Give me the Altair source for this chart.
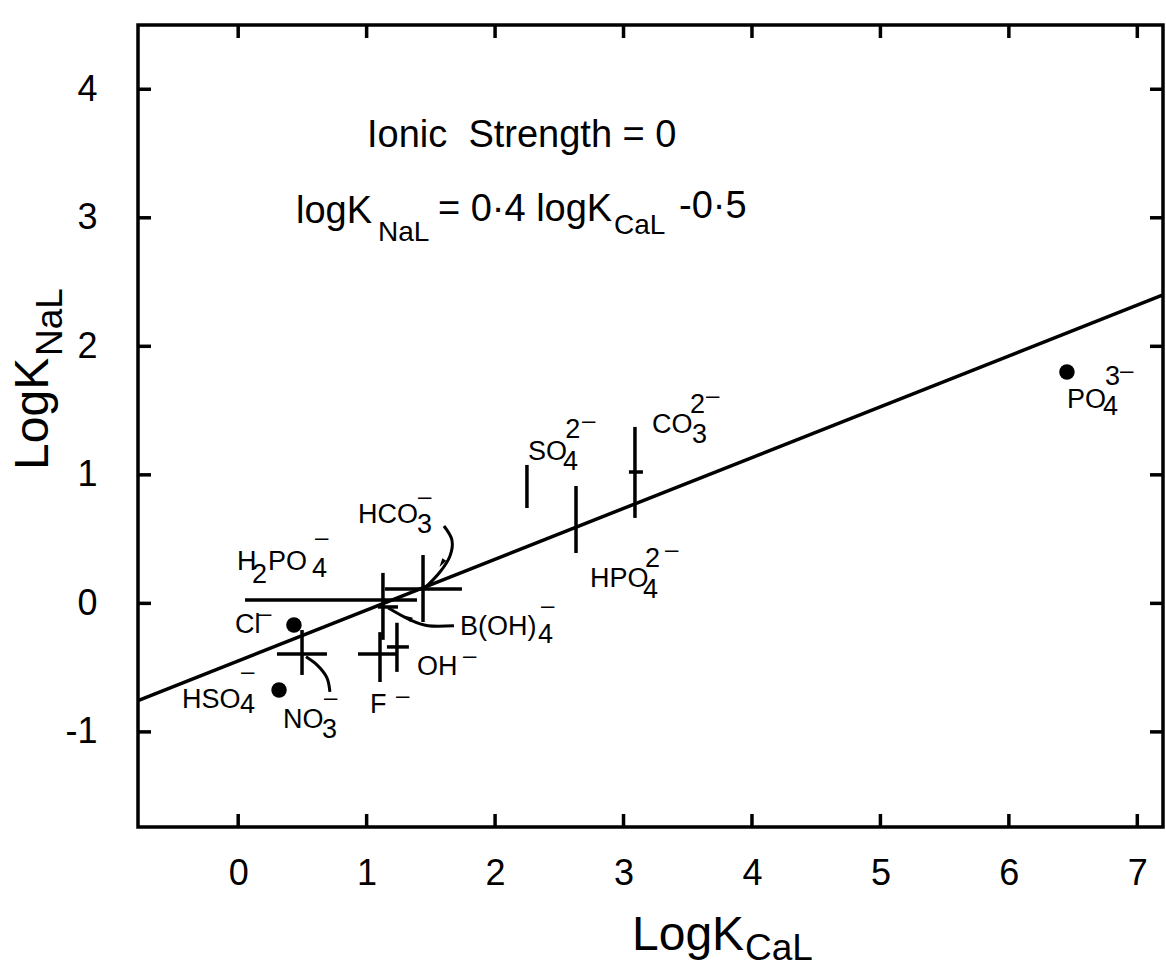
import altair as alt
import pandas as pd

FONT = "Liberation Sans"
W, H = 1025, 802

# ---------------- axes ----------------
x_ticks = [0, 1, 2, 3, 4, 5, 6, 7]
y_ticks = [-1, 0, 1, 2, 3, 4]
x_domain = [-0.78, 7.2]
y_domain = [-1.74, 4.5]

# ---------------- fitted line (as drawn) ----------------
fit_x = [-0.78, 7.2]
fit_y = [-0.756, 2.40]

# ---------------- single points ----------------
dot_names = ["Cl-", "HSO4-", "PO4 3-"]
dot_x = [0.434, 0.318, 6.452]
dot_y = [-0.168, -0.674, 1.800]

# ---------------- crosses / bars ----------------
cross_names = ["NO3-", "F-", "OH-", "H2PO4-", "B(OH)4-", "HCO3-", "SO4 2-", "HPO4 2-", "CO3 2-"]
cross_x   = [0.497, 1.104, 1.236, 1.127, 1.127, 1.439, 2.248, 2.630, 3.089]
cross_y   = [-0.394, -0.394, -0.339, 0.026, -0.028, 0.112, 0.909, 0.650, 1.022]
cross_xlo = [0.302, 0.933, 1.158, 0.053, 1.088, 1.142, 2.248, 2.630, 3.042]
cross_xhi = [0.691, 1.236, 1.329, 1.392, 1.244, 1.742, 2.248, 2.630, 3.151]
cross_ylo = [-0.557, -0.612, -0.533, 0.026, -0.284, -0.145, 0.742, 0.392, 0.665]
cross_yhi = [-0.207, -0.224, -0.151, 0.026, 0.237, 0.376, 1.077, 0.913, 1.373]

# ---------------- leader lines ----------------
lead_name = ["HCO3"] * 5 + ["BOH4"] * 4 + ["NO3"] * 4
lead_x = [1.602, 1.664, 1.649, 1.571, 1.454, 1.680, 1.478, 1.337, 1.166, 0.714, 0.691, 0.621, 0.528]
lead_y = [0.602, 0.493, 0.369, 0.244, 0.120, -0.174, -0.174, -0.128, -0.034, -0.688, -0.579, -0.486, -0.416]
arrow_x = [1.587, 1.322]
arrow_y = [0.314, -0.112]
arrow_dir = [212, 299]

# ---------------- ion labels (base text, subscripts, superscripts) ----------------
ion_text = ["H", "2", "PO", "4", "Cl", "HSO", "4", "NO", "3", "F", "OH", "B(OH)", "4",
            "HCO", "3", "SO", "4", "2", "CO", "3", "2", "HPO", "4", "2", "PO", "4", "3"]
ion_x = [-0.009, 0.107, 0.232, 0.575, -0.025, -0.438, 0.014, 0.349, 0.652, 1.026, 1.392, 1.727, 2.334,
         0.933, 1.392, 2.256, 2.529, 2.546, 3.222, 3.533, 3.517, 2.739, 3.151, 3.167, 6.452, 6.733, 6.748]
ion_y = [0.260, 0.159, 0.260, 0.205, -0.230, -0.814, -0.853, -0.969, -1.047, -0.853, -0.557, -0.246, -0.308,
         0.626, 0.548, 1.116, 1.038, 1.287, 1.326, 1.248, 1.481, 0.128, 0.042, 0.283, 1.520, 1.466, 1.699]
dash_x = [0.598, 0.154, 0.022, 0.668, 1.229, 1.750, 2.357, 1.400, 2.677, 3.642, 3.323, 6.865]
dash_y = [0.454, -0.137, -0.588, -0.790, -0.775, -0.464, -0.075, 0.773, 1.365, 1.559, 0.361, 1.752]

# ---------------- equation and notes ----------------
eq_text = ["Ionic\u00a0 Strength = 0", "logK", "= 0·4 logK", "-0·5"]
eq_x = [1.003, 0.450, 1.555, 3.432]
eq_y = [3.551, 2.960, 2.975, 2.999]
eq_sub_text = ["NaL", "CaL"]
eq_sub_x = [1.088, 2.926]
eq_sub_y = [2.820, 2.874]

# ---------------- axis titles ----------------
xt_text, xt_x, xt_y = ["LogK"], [3.066], [-2.697]
xts_text, xts_x, xts_y = ["CaL"], [3.945], [-2.774]
yt_text, yt_x, yt_y = ["LogK"], [-1.481], [1.038]
yts_text, yts_x, yts_y = ["NaL"], [-1.372], [1.925]

# =====================================================================
xs = alt.Scale(domain=x_domain, nice=False, zero=False)
ys = alt.Scale(domain=y_domain, nice=False, zero=False)
xaxis = alt.Axis(values=x_ticks, title=None, grid=False, domain=False, ticks=False, tickSize=0,
                 labelFont=FONT, labelFontSize=36, labelColor="black", labelPadding=29,
                 labelOverlap=False, labelFlush=False)
yaxis = alt.Axis(values=y_ticks, title=None, grid=False, domain=False, ticks=False, tickSize=0,
                 labelFont=FONT, labelFontSize=36, labelColor="black", labelPadding=41,
                 labelOverlap=False, labelFlush=False,
                 labelExpr="datum.value < 0 ? '-' + (-datum.value) : '' + datum.value")


def X(f):
    return alt.X(f + ":Q", scale=xs, axis=xaxis)


def Y(f):
    return alt.Y(f + ":Q", scale=ys, axis=yaxis)


fit_df = pd.DataFrame({"x": fit_x, "y": fit_y})
dots_df = pd.DataFrame({"name": dot_names, "x": dot_x, "y": dot_y})
cross_df = pd.DataFrame({"name": cross_names, "xc": cross_x, "yc": cross_y,
                         "xlo": cross_xlo, "xhi": cross_xhi, "ylo": cross_ylo, "yhi": cross_yhi})
lead_df = pd.DataFrame({"name": lead_name, "x": lead_x, "y": lead_y, "i": list(range(len(lead_x)))})
arrow_df = pd.DataFrame({"x": arrow_x, "y": arrow_y, "a": arrow_dir})
xt_df = pd.DataFrame({"v": x_ticks})
yt_df = pd.DataFrame({"v": y_ticks})

BLACK = "black"
LW = 3.5

line = alt.Chart(fit_df).mark_line(color=BLACK, strokeWidth=LW).encode(x=X("x"), y=Y("y"))

hbars = alt.Chart(cross_df).transform_filter("datum.xlo < datum.xhi").mark_rule(
    color=BLACK, strokeWidth=LW).encode(x=X("xlo"), x2="xhi", y=Y("yc"))
vbars = alt.Chart(cross_df).transform_filter("datum.ylo < datum.yhi").mark_rule(
    color=BLACK, strokeWidth=LW).encode(x=X("xc"), y=Y("ylo"), y2="yhi")

dots = alt.Chart(dots_df).mark_circle(color=BLACK, opacity=1, size=240).encode(x=X("x"), y=Y("y"))

leaders = alt.Chart(lead_df).mark_line(color=BLACK, strokeWidth=3, interpolate="cardinal").encode(
    x=X("x"), y=Y("y"), detail="name:N", order="i:Q")
arrows = alt.Chart(arrow_df).mark_point(
    shape="M0,-1L0.5,0.9L-0.5,0.9Z", filled=True, color=BLACK, opacity=1, size=90).encode(
    x=X("x"), y=Y("y"), angle=alt.Angle("a:Q", scale=None))

# inward ticks on all four sides of the frame
t_bottom = alt.Chart(xt_df).mark_rule(color=BLACK, strokeWidth=LW).encode(
    x=X("v"), y=alt.value(H), y2=alt.value(H - 13))
t_top = alt.Chart(xt_df).mark_rule(color=BLACK, strokeWidth=LW).encode(
    x=X("v"), y=alt.value(0), y2=alt.value(13))
t_left = alt.Chart(yt_df).mark_rule(color=BLACK, strokeWidth=LW).encode(
    y=Y("v"), x=alt.value(0), x2=alt.value(13))
t_right = alt.Chart(yt_df).mark_rule(color=BLACK, strokeWidth=LW).encode(
    y=Y("v"), x=alt.value(W), x2=alt.value(W - 13))


def texts(t, xv, yv, size, angle=0):
    df = pd.DataFrame({"t": t, "x": xv, "y": yv})
    return alt.Chart(df).mark_text(font=FONT, fontSize=size, align="left", baseline="alphabetic",
                                   color=BLACK, angle=angle).encode(x=X("x"), y=Y("y"), text="t:N")


ion_layer = texts(ion_text, ion_x, ion_y, 27)
dash_layer = texts(["–"] * len(dash_x), dash_x, dash_y, 24)
eq_layer = texts(eq_text, eq_x, eq_y, 38)
eq_sub_layer = texts(eq_sub_text, eq_sub_x, eq_sub_y, 28)
xt_layer = texts(xt_text, xt_x, xt_y, 48)
xts_layer = texts(xts_text, xts_x, xts_y, 37)
yt_layer = texts(yt_text, yt_x, yt_y, 48, 270)
yts_layer = texts(yts_text, yts_x, yts_y, 37, 270)

chart = alt.layer(
    line, hbars, vbars, dots, leaders, arrows,
    t_bottom, t_top, t_left, t_right,
    ion_layer, dash_layer, eq_layer, eq_sub_layer,
    xt_layer, xts_layer, yt_layer, yts_layer,
).properties(
    width=W, height=H,
    autosize=alt.AutoSizeParams(type="none"),
    padding={"left": 138, "top": 25, "right": 3, "bottom": 140},
    background="white",
).configure_view(stroke=BLACK, strokeWidth=LW)

chart.save("out.html", embed_options={"renderer": "svg", "actions": False})
